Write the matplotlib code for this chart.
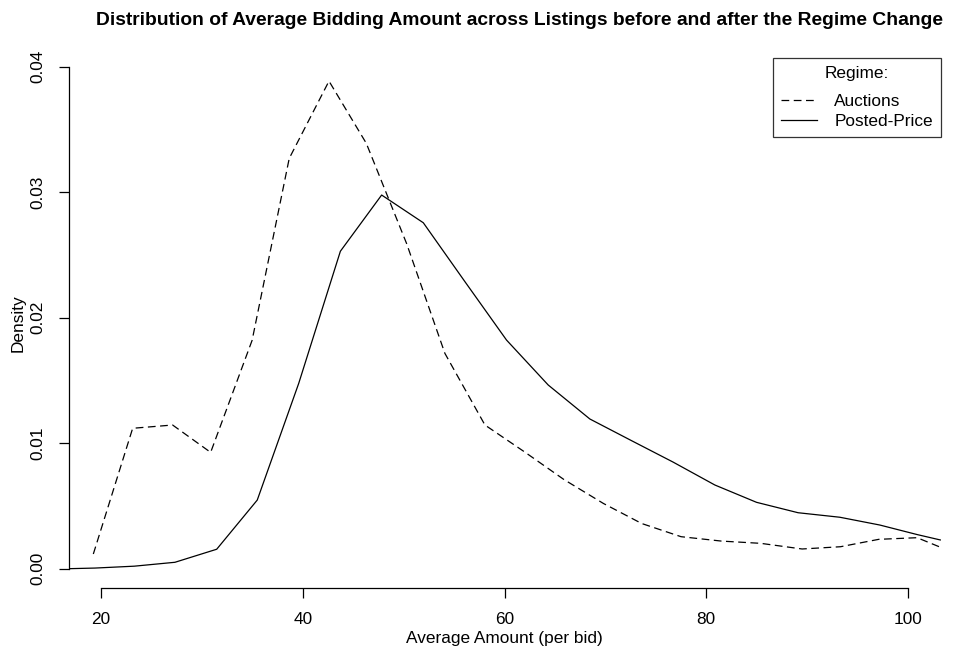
import numpy as np
import matplotlib
matplotlib.use("Agg")
import matplotlib.pyplot as plt

plt.rcParams['font.family'] = ['Liberation Sans', 'DejaVu Sans']

# density polygons
auc_x = [19.24, 23.14, 27.1, 30.87, 34.98, 38.66, 42.6, 46.3, 50.3, 54.09, 58.06,
         62.0, 65.9, 69.8, 73.6, 77.5, 81.5, 85.4, 89.5, 93.3, 97.1, 100.9, 103.24]
auc_y = [0.00117, 0.01119, 0.01145, 0.00927, 0.0182, 0.0327, 0.03886, 0.0339, 0.0259, 0.01716, 0.01145,
         0.0093, 0.0071, 0.0052, 0.0036, 0.00255, 0.0022, 0.00202, 0.00157, 0.00175, 0.00234, 0.00247, 0.0017]

pp_x = [16.8, 19.4, 23.3, 27.33, 31.47, 35.49, 39.6, 43.73, 47.82, 51.95, 56.08, 60.2,
        64.33, 68.46, 72.6, 76.7, 80.85, 84.98, 89.1, 93.24, 97.2, 100.9, 103.2]
pp_y = [0.0, 0.00005, 0.0002, 0.00051, 0.00155, 0.00547, 0.01477, 0.0253, 0.02978, 0.02757, 0.02287, 0.01822,
        0.01464, 0.01193, 0.0102, 0.0085, 0.00667, 0.00529, 0.00446, 0.0041, 0.00348, 0.00272, 0.00229]

x_ticks = [20, 40, 60, 80, 100]
y_ticks = [0.00, 0.01, 0.02, 0.03, 0.04]

fs = 12.4

fig = plt.figure(figsize=(9.61, 6.54), dpi=100)
ax = fig.add_axes([0.0715, 0.1009, 0.9074, 0.8104])

ax.plot(auc_x, auc_y, color='black', lw=0.9, dashes=(6.2, 3.6), label='Auctions')
ax.plot(pp_x, pp_y, color='black', lw=0.9, label='Posted-Price')

ax.set_xlim(16.8, 103.24)
ax.set_ylim(-0.00154, 0.0407)

for s in ['top', 'right']:
    ax.spines[s].set_visible(False)
ax.spines['left'].set_bounds(0, 0.04)
ax.spines['bottom'].set_bounds(20, 100)
for s in ['left', 'bottom']:
    ax.spines[s].set_linewidth(0.9)

ax.set_xticks(x_ticks)
ax.set_xticklabels([str(v) for v in x_ticks])
ax.set_yticks(y_ticks)
ax.set_yticklabels(['%.2f' % v for v in y_ticks], rotation=90, va='center')
ax.tick_params(direction='out', length=7.5, width=0.9, labelsize=fs)
ax.tick_params(axis='x', pad=10)
ax.tick_params(axis='y', pad=9)

ax.set_xlabel('Average Amount (per bid)', fontsize=fs, labelpad=3)
ax.set_ylabel('Density', fontsize=fs, labelpad=4)

fig.text(0.541, 0.969, 'Distribution of Average Bidding Amount across Listings before and after the Regime Change',
         ha='center', va='center', fontsize=13.9, fontweight='bold')

leg = ax.legend(loc='upper right', title='Regime:', fontsize=fs, title_fontsize=fs,
                frameon=True, fancybox=False, edgecolor='black', borderaxespad=0.0,
                handlelength=2.1, handletextpad=1.0, labelspacing=0.32, borderpad=0.45)
leg.get_frame().set_linewidth(0.9)
# wider gap between title and entries, like R's legend()
leg._legend_box.sep = 0.75 * fs

fig.savefig('out.png', dpi=100)
